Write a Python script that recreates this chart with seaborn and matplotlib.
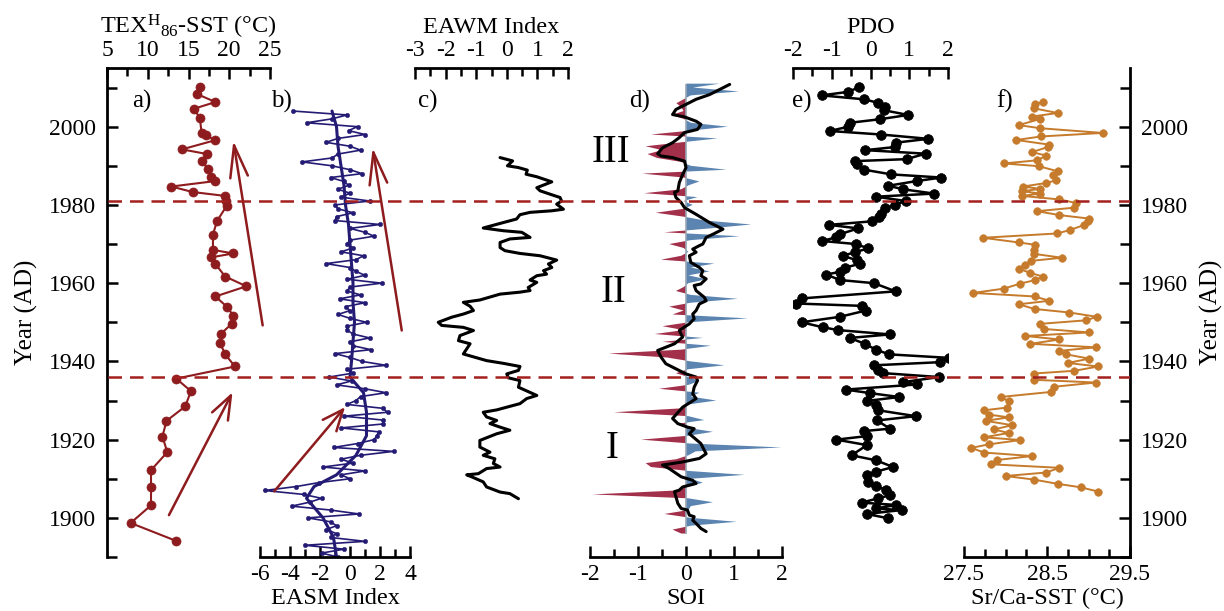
import numpy as np
import pandas as pd
import matplotlib
matplotlib.use("Agg")
import matplotlib.pyplot as plt
from matplotlib.ticker import MultipleLocator
import seaborn as sns

# ---------------- data ----------------
tex_year = [2010.1, 2008.3, 2006.3, 2004.6, 2002.1, 1998.5, 1997.9, 1996.5, 1994.2, 1993.0,
            1991.2, 1989.1, 1987.2, 1986.1, 1984.7, 1983.3, 1982.3, 1981.0, 1979.8, 1975.9,
            1972.4, 1968.5, 1967.6, 1966.6, 1964.9, 1961.7, 1959.2, 1956.6, 1954.0, 1951.7,
            1949.6, 1947.1, 1944.6, 1941.8, 1938.7, 1935.6, 1932.4, 1928.5, 1924.8, 1920.8,
            1916.8, 1912.2, 1907.9, 1903.2, 1898.7, 1894.1]
tex_sst = [16.4, 16.1, 18.3, 15.7, 16.4, 16.6, 17.2, 18.2, 14.2, 17.3,
           16.7, 17.4, 17.8, 18.3, 12.9, 15.5, 19.5, 19.6, 19.7, 18.5,
           18.0, 18.0, 20.5, 17.8, 18.3, 19.5, 22.1, 18.3, 19.7, 20.5,
           20.3, 19.0, 18.9, 19.5, 20.7, 13.5, 15.3, 14.6, 12.3, 11.8,
           12.4, 10.4, 10.4, 10.4, 7.9, 13.5]

easm_year = list(range(1890, 2005))
easm = [-0.8, -1.9, -0.4, -3.0, 1.0, -1.3, -0.9, -1.6, -0.9, -1.3,
        -2.8, 0.6, -1.3, -3.9, -2.7, -1.9, -3.1, -5.7, -3.6, -2.1,
        0.0, -0.6, 1.0, -1.8, 0.2, -0.6, 0.7, 2.9, -1.1, 0.5,
        1.6, 1.8, 1.9, -0.6, 2.2, 2.2, -0.4, 2.5, 2.2, -0.2,
        0.4, 0.7, 2.4, 1.0, -0.9, 0.1, -1.4, 0.2, -0.2, 2.4,
        0.8, 0.0, -1.0, 1.4, 0.2, 0.0, 1.3, 0.2, -0.2, -0.2,
        1.1, 0.0, -0.8, 0.0, -0.3, 1.0, -0.7, 0.7, -0.2, 0.0,
        2.1, -0.2, 1.0, 0.4, 0.0, -1.6, 0.4, 0.9, -0.6, 0.2,
        -0.2, 0.0, 1.6, 1.0, 0.0, 2.0, -1.0, -0.9, 0.2, -0.8,
        -1.0, 1.3, -0.6, 0.0, -0.8, -0.1, -0.4, -1.3, 0.8, 0.0,
        -1.2, -3.2, -1.2, -0.8, 0.7, 0.0, -1.6, -0.8, 1.0, -0.1,
        0.5, -2.9, -1.2, -0.2, -3.8]
easm_smooth_year = [1890, 1895, 1900, 1905, 1908, 1911, 1916, 1921, 1927, 1932, 1936, 1940,
                    1945, 1950, 1955, 1960, 1965, 1970, 1975, 1980, 1985, 1990, 1995, 2000, 2004]
easm_smooth = [-0.9, -1.1, -1.8, -2.9, -2.4, -0.9, 0.4, 1.1, 1.1, 0.9, 0.0, 0.1,
               0.2, 0.3, 0.2, 0.2, 0.1, 0.0, -0.1, -0.3, -0.4, -0.6, -0.8, -0.9, -1.2]

eawm_year = [1904.9, 1906.2, 1906.6, 1907.9, 1909.2, 1910.5, 1911.0, 1911.3, 1912.6, 1913.0,
             1913.9, 1915.1, 1916.0, 1916.8, 1918.1, 1919.8, 1921.5, 1922.4, 1923.2, 1924.1,
             1924.9, 1925.8, 1927.0, 1927.6, 1928.3, 1929.2, 1930.5, 1931.3, 1933.4, 1935.1,
             1935.8, 1936.8, 1937.7, 1938.7, 1939.5, 1940.2, 1941.9, 1943.2, 1944.5, 1945.3,
             1946.6, 1947.9, 1948.7, 1949.2, 1950.0, 1951.3, 1952.1, 1953.0, 1954.1, 1955.1,
             1955.7, 1957.2, 1957.7, 1958.1, 1958.9, 1960.2, 1960.8, 1961.9, 1962.3, 1963.2,
             1964.0, 1964.9, 1965.9, 1967.0, 1967.6, 1968.3, 1969.1, 1970.4, 1971.3, 1971.7,
             1973.0, 1973.4, 1974.1, 1975.5, 1976.4, 1977.5, 1978.1, 1978.5, 1978.9, 1980.2,
             1981.0, 1981.9, 1982.75, 1983.6, 1984.4, 1985.9, 1987.2, 1987.85, 1988.9, 1989.55,
             1990.0, 1991.25, 1992.1]
eawm = [0.38, 0.10, -0.22, -0.66, -0.77, -1.15, -1.31, -0.93, -0.66, -0.22,
        -0.44, -0.39, -0.77, -0.55, -0.88, -0.88, -0.33, 0.10, -0.22, -0.55,
        -0.33, -0.66, -0.77, -0.33, 0.00, 0.43, 0.65, 0.98, 0.38, 0.43,
        0.05, 0.00, 0.38, 0.43, -0.11, -0.66, -1.42, -1.31, -1.20, -1.58,
        -1.53, -1.09, -1.42, -2.13, -2.24, -1.80, -1.42, -1.09, -1.20, -1.42,
        -0.88, -0.22, 0.43, 0.76, 0.70, 0.98, 0.76, 0.98, 1.30, 1.20,
        1.47, 1.36, 1.63, 1.09, 0.43, -0.06, -0.22, -0.22, 0.10, 0.76,
        0.49, -0.11, -0.77, -0.11, 0.32, 0.43, 0.76, 1.47, 1.85, 1.63,
        1.79, 1.74, 1.41, 1.09, 0.98, 1.47, 0.98, 0.63, 0.67, 0.38,
        0.02, 0.19, -0.22]

soi_year = list(range(1896, 2012))
soi = [-0.10, -0.28, 0.10, 1.05,
       0.10, -0.45, 0.05, 0.10, 0.56, 0.05, -1.95, -0.20, 0.05, 0.35,
       0.10, 1.22, 0.05, -0.73, -0.84, -0.20, 0.05, 0.20, 1.99, 0.10,
       -0.94, 0.05, 0.56, 0.05, -0.21, 0.38, 0.05, -1.50, -0.10, 0.05,
       0.63, 0.10, 0.28, -0.56, 0.05, 0.28, 0.05, -0.21, 0.05, 0.80,
       0.10, -0.40, -1.61, -0.10, 0.52, -0.49, 0.35, -0.65, -0.05, -0.49,
       0.05, 1.29, -0.28, -0.05, -0.35, 0.10, 1.08, 0.10, -0.21, -0.05,
       0.05, 0.42, 0.05, 0.49, 0.10, 0.59, -0.52, -0.10, 0.05, -0.05,
       -0.35, 0.10, 1.12, -0.45, 0.50, 1.36, 0.40, -0.05, -0.63, -0.05,
       0.14, -0.05, 0.24, -0.87, -0.10, 0.05, 0.28, -0.05, -0.91, 0.84,
       0.10, -0.10, -0.60, -0.80, -0.50, -0.84, -0.10, 0.66, -0.73, 0.10,
       0.87, 0.10, -0.05, -0.30, -0.05, -0.10, -0.20, -0.05, 0.10, 1.10,
       0.15, 0.70]
soi_smooth_year = [1896.5, 1897.3, 1898.6, 1899.4, 1900.3, 1900.7, 1902.0, 1902.4, 1903.7, 1905.4,
                   1906.7, 1907.1, 1907.9, 1908.8, 1909.6, 1910.5, 1912.6, 1913.5, 1914.3, 1915.2,
                   1916.4, 1917.3, 1919.0, 1921.5, 1922.8, 1923.2, 1924.1, 1925.4, 1928.3, 1929.6,
                   1930.5, 1931.7, 1933.4, 1935.1, 1936.0, 1936.8, 1938.1, 1939.4, 1941.1, 1942.8,
                   1944.5, 1946.2, 1947.9, 1949.6, 1950.9, 1952.1, 1953.0, 1954.7, 1955.5, 1956.4,
                   1958.1, 1959.4, 1959.8, 1961.1, 1961.9, 1963.2, 1964.0, 1965.3, 1967.0, 1967.9,
                   1968.7, 1969.6, 1970.0, 1971.7, 1972.5, 1973.8, 1975.5, 1977.6, 1979.3, 1980.6,
                   1981.9, 1983.2, 1983.6, 1985.7, 1987.8, 1989.5, 1991.2, 1992.1, 1992.5, 1993.1,
                   1994.6, 1995.9, 1997.2, 1998.5, 1999.3, 2000.6, 2001.4, 2002.5, 2003.1, 2004.4,
                   2005.7, 2007.0, 2008.2, 2010.8]
soi_smooth = [0.42, 0.31, 0.21, 0.14, 0.17, 0.07, 0.03, -0.10, -0.17, -0.21,
              -0.24, -0.14, -0.07, 0.21, 0.14, -0.10, -0.35, -0.49, -0.07, 0.28,
              0.42, 0.38, 0.31, 0.07, 0.17, 0.03, -0.17, -0.28, -0.07, 0.10,
              0.21, 0.14, 0.17, 0.24, 0.21, 0.00, -0.21, -0.42, -0.52, -0.59,
              -0.24, -0.07, -0.14, 0.07, 0.17, 0.14, 0.21, 0.28, 0.42, 0.38,
              0.21, 0.17, 0.31, 0.42, 0.31, 0.35, 0.28, 0.10, 0.07, 0.21,
              0.14, 0.28, 0.35, 0.42, 0.56, 0.77, 0.49, 0.21, -0.03, -0.10,
              -0.21, -0.24, -0.17, -0.14, -0.07, 0.00, -0.03, -0.28, -0.52, -0.59,
              -0.49, -0.28, -0.14, -0.03, 0.24, 0.31, 0.21, -0.03, -0.28, -0.21,
              0.00, 0.21, 0.49, 0.91]

pdo_year = [1899.9, 1901.0, 1902.0, 1902.4, 1903.3, 1903.9, 1905.0, 1905.8, 1907.1, 1908.1,
            1909.2, 1910.9, 1911.8, 1913.0, 1914.7, 1916.0, 1918.6, 1920.0, 1920.9, 1922.2,
            1922.8, 1924.9, 1926.0, 1927.5, 1928.8, 1929.9, 1930.9, 1931.9, 1932.8, 1934.1,
            1934.7, 1936.0, 1937.0, 1937.9, 1939.0, 1939.8, 1940.9, 1941.8, 1943.0, 1944.5,
            1946.0, 1946.9, 1948.0, 1948.7, 1950.0, 1951.4, 1953.0, 1954.2, 1954.8, 1956.1,
            1957.9, 1960.0, 1960.8, 1962.2, 1962.9, 1964.0, 1964.9, 1965.9, 1967.0, 1967.9,
            1968.9, 1970.0, 1970.8, 1971.7, 1972.5, 1974.0, 1974.9, 1975.8, 1976.8, 1977.6,
            1979.1, 1980.0, 1981.0, 1982.1, 1982.9, 1984.0, 1984.9, 1986.1, 1987.0, 1987.8,
            1989.0, 1990.4, 1991.2, 1991.7, 1993.1, 1994.0, 1994.8, 1995.9, 1996.9, 1998.0,
            1998.9, 2000.0, 2001.0, 2001.9, 2003.0, 2004.2, 2005.0, 2006.1, 2007.0, 2008.0,
            2008.9, 2010.1]
pdo = [0.46, -0.10, 0.80, 0.14, 0.67, -0.23, 0.20, 0.50, 0.40, 0.15,
       -0.06, -0.10, 0.14, 0.58, 0.15, -0.49, -0.09, -0.88, -0.10, -0.16,
       0.50, 0.17, 1.17, 0.20, 0.15, -0.09, 0.74, -0.02, -0.64, 1.19,
       0.84, 1.77, 0.33, 0.20, 0.09, 1.79, 2.03, 0.48, 0.14, -0.15,
       -0.53, 0.50, -0.83, -1.22, -1.78, -0.79, -0.12, -0.23, -1.91, -1.78,
       0.65, 0.09, -0.79, -1.14, -0.79, -0.66, -0.28, -0.36, -0.72, -0.40,
       -0.06, -0.38, -1.26, -0.88, -0.79, -0.32, -1.07, 0.03, 0.22, 0.27,
       0.37, 0.63, 0.91, 0.14, 1.64, 0.84, 0.46, 1.19, 1.83, 0.54,
       -0.16, -0.36, -0.40, 0.93, 1.42, -0.13, 0.63, 0.65, 1.49, 0.27,
       -1.05, -0.57, -0.53, 0.24, 0.97, 0.35, 0.37, 0.20, -0.17, -1.26,
       -0.58, -0.29]

srca_year = [1906.7, 1907.8, 1908.7, 1909.8, 1910.7, 1911.6, 1912.8, 1913.7, 1914.8, 1915.8,
             1916.7, 1917.9, 1918.8, 1919.9, 1920.6, 1921.7, 1922.6, 1923.7, 1924.8, 1925.7,
             1926.4, 1927.5, 1928.2, 1929.8, 1930.9, 1932.2, 1933.5, 1934.6, 1935.3, 1936.9,
             1937.6, 1938.7, 1939.6, 1940.7, 1941.8, 1942.7, 1943.6, 1944.5, 1945.6, 1946.5,
             1947.4, 1948.3, 1949.6, 1950.5, 1951.4, 1952.5, 1953.4, 1954.6, 1955.5, 1956.6,
             1957.5, 1958.6, 1959.9, 1960.8, 1961.7, 1962.6, 1963.7, 1964.7, 1965.7, 1966.5,
             1967.5, 1968.6, 1969.8, 1970.4, 1971.6, 1972.7, 1973.6, 1974.9, 1975.8, 1976.5,
             1977.4, 1978.4, 1979.3, 1980.5, 1981.4, 1982.3, 1982.9, 1983.5, 1984.1, 1984.7,
             1985.6, 1986.3, 1987.7, 1988.6, 1989.9, 1990.6, 1991.4, 1992.6, 1993.5, 1994.8,
             1995.4, 1996.6, 1997.5, 1998.4, 1999.6, 2000.4, 2002.0, 2002.6, 2003.5, 2004.7,
             2005.7, 2006.4]
srca_sst = [29.12, 28.91, 28.63, 28.34, 28.00, 28.49, 28.65, 27.82, 27.90, 28.32,
            27.74, 27.59, 27.80, 28.18, 27.74, 28.04, 27.86, 28.08, 27.76, 28.04,
            27.80, 27.74, 28.02, 28.04, 27.94, 28.55, 28.58, 29.09, 28.34, 28.34,
            28.83, 29.12, 28.75, 29.01, 28.73, 28.65, 29.09, 28.30, 28.65, 28.24,
            29.01, 28.46, 28.42, 28.97, 29.10, 28.77, 28.35, 28.16, 28.53, 28.35,
            27.61, 27.98, 28.18, 28.36, 28.45, 28.30, 28.16, 28.24, 28.31, 28.68,
            28.34, 28.34, 28.36, 28.16, 27.73, 28.62, 28.78, 28.95, 28.99, 29.01,
            28.65, 28.38, 28.83, 28.85, 28.65, 28.20, 28.42, 28.20, 28.42, 28.21,
            28.49, 28.61, 28.57, 28.63, 28.40, 27.98, 28.38, 28.49, 28.32, 28.51,
            28.53, 28.13, 28.43, 29.17, 28.42, 28.16, 28.42, 28.32, 28.63, 28.34,
            28.36, 28.45]

boundary_years = [1981, 1936]
phase_labels = ["III", "II", "I"]
# trend arrows: (start, tip) in data units of their panel
arrows_a = [((12.6, 1900.7), (20.4, 1932.1)), ((24.1, 1949.2), (20.5, 1996.4))]
arrows_b = [((-5.05, 1906.8), (-0.33, 1928.3)), ((3.45, 1947.9), (1.51, 1994.6))]

# ---------------- style ----------------
sns.set_theme(style="ticks")
plt.rcParams["font.family"] = ["Liberation Serif", "DejaVu Serif"]
plt.rcParams["mathtext.fontset"] = "custom"
plt.rcParams["mathtext.rm"] = "Liberation Serif"
plt.rcParams["mathtext.it"] = "Liberation Serif:italic"
plt.rcParams["mathtext.bf"] = "Liberation Serif:bold"
plt.rcParams["axes.unicode_minus"] = False

RED = "#8e1b1d"
NAVY = "#241b74"
SOI_RED = "#a3304a"
SOI_BLUE = "#5b84b0"
ORANGE = "#c57b2b"
DASH = "#a3201f"

W, H = 1224, 611
TOP, BOT = 68, 557
YMIN, YMAX = 1890, 2015
TICK_FS, LAB_FS = 17, 17.5

fig = plt.figure(figsize=(W / 100, H / 100), dpi=100)
fig.patch.set_facecolor("white")


def make_ax(x0, x1):
    ax = fig.add_axes([x0 / W, 1 - BOT / H, (x1 - x0) / W, (BOT - TOP) / H])
    ax.set_facecolor("none")
    return ax


def finish(ax, side, lim, major, minor, label, ticks=None, minor_ticks=None):
    ax.set_ylim(YMIN, YMAX)
    ax.set_xlim(*lim)
    ax.grid(False)
    for s in ax.spines.values():
        s.set_visible(False)
    ax.tick_params(axis="both", which="both", left=False, right=False, top=False, bottom=False,
                   labelleft=False, labelright=False, labeltop=False, labelbottom=False)
    sp = ax.spines[side]
    sp.set_visible(True)
    sp.set_linewidth(2.0)
    sp.set_color("black")
    ax.xaxis.set_label_position(side)
    if ticks is not None:
        ax.set_xticks(ticks)
        ax.set_xticks(minor_ticks, minor=True)
    else:
        ax.xaxis.set_major_locator(MultipleLocator(major))
        ax.xaxis.set_minor_locator(MultipleLocator(minor))
    ax.tick_params(axis="x", which="both", direction="in", width=1.8, color="black",
                   labelsize=TICK_FS, labelcolor="black", pad=5, **{side: True, "label" + side: True})
    ax.tick_params(axis="x", which="major", length=8)
    ax.tick_params(axis="x", which="minor", length=6)
    ax.set_xlabel(label, fontsize=LAB_FS, labelpad=5 if side == "top" else 2, color="black")
    ax.set_ylabel("")


def year_axis(ax, side):
    sp = ax.spines[side]
    sp.set_visible(True)
    sp.set_linewidth(2.0)
    sp.set_color("black")
    ax.yaxis.set_major_locator(MultipleLocator(20))
    ax.yaxis.set_minor_locator(MultipleLocator(10))
    ax.yaxis.set_label_position(side)
    ax.tick_params(axis="y", which="both", direction="in", width=1.8, color="black",
                   labelsize=TICK_FS, labelcolor="black", pad=8, **{side: True, "label" + side: True})
    ax.tick_params(axis="y", which="major", length=8)
    ax.tick_params(axis="y", which="minor", length=7)
    ax.set_ylabel("Year (AD)", fontsize=LAB_FS + 0.5, labelpad=8, color="black")


ax_a = make_ax(107, 270)
ax_b = make_ax(260, 410)
ax_c = make_ax(415, 568)
ax_d = make_ax(590, 782)
ax_e = make_ax(793, 948)
ax_f = make_ax(964, 1130)

# a) TEX86-SST
sns.lineplot(x=tex_sst, y=tex_year, ax=ax_a, sort=False, estimator=None, color=RED, lw=1.5,
             marker="o", markersize=6.5, markeredgecolor=RED, markeredgewidth=0.5)
# b) EASM
sns.lineplot(x=easm, y=easm_year, ax=ax_b, sort=False, estimator=None, color=NAVY, lw=1.2,
             marker="o", markersize=3.2, markeredgecolor=NAVY, markeredgewidth=0.3)
sns.lineplot(x=easm_smooth, y=easm_smooth_year, ax=ax_b, sort=False, estimator=None,
             color=NAVY, lw=2.2)
# c) EAWM
sns.lineplot(x=eawm, y=eawm_year, ax=ax_c, sort=False, estimator=None, color="black", lw=2.2)
# d) SOI
soi_arr = np.asarray(soi)
ax_d.fill_betweenx(soi_year, 0, soi_arr, where=soi_arr >= 0, interpolate=True,
                   color=SOI_BLUE, lw=0)
ax_d.fill_betweenx(soi_year, 0, soi_arr, where=soi_arr <= 0, interpolate=True,
                   color=SOI_RED, lw=0)
ax_d.vlines(0, min(soi_year), max(soi_year), color="#9aa6b4", lw=1.2)
sns.lineplot(x=soi_smooth, y=soi_smooth_year, ax=ax_d, sort=False, estimator=None,
             color="black", lw=2.2)
# e) PDO
sns.lineplot(x=pdo, y=pdo_year, ax=ax_e, sort=False, estimator=None, color="black", lw=1.8,
             marker="o", markersize=7, markeredgecolor="black", markeredgewidth=0.5)
# f) Sr/Ca-SST
sns.lineplot(x=srca_sst, y=srca_year, ax=ax_f, sort=False, estimator=None, color=ORANGE, lw=1.4,
             marker="o", markersize=5.5, markeredgecolor=ORANGE, markeredgewidth=0.4)

# arrows
heads_a = [0.85, 1.15]
heads_b = [0.75, 1.15]
for ax, arrows, heads in [(ax_a, arrows_a, heads_a), (ax_b, arrows_b, heads_b)]:
    for (start, tip), hl in zip(arrows, heads):
        ax.annotate("", xy=tip, xytext=start, annotation_clip=False,
                    arrowprops=dict(arrowstyle=f"->,head_length={hl},head_width=0.32",
                                    color=RED, lw=1.8, mutation_scale=20,
                                    shrinkA=0, shrinkB=0))

finish(ax_a, "top", (5, 25), 5, 2.5, r"TEX$^{\mathrm{H}}$$_{\mathrm{86}}$-SST (°C)")
year_axis(ax_a, "left")
finish(ax_b, "bottom", (-6, 4), 2, 1, "EASM Index")
finish(ax_c, "top", (-3, 2), 1, 0.5, "EAWM Index")
finish(ax_d, "bottom", (-2, 2), 1, 0.5, "SOI")
finish(ax_e, "top", (-2, 2), 1, 0.5, "PDO")
finish(ax_f, "bottom", (27.5, 29.5), 1, 0.25, "Sr/Ca-SST (°C)",
       ticks=[27.5, 28.5, 29.5], minor_ticks=list(np.arange(27.5, 29.51, 0.25)))
year_axis(ax_f, "right")

# dashed boundaries across the whole frame
ax_ov = make_ax(108, 1130)
ax_ov.set_ylim(YMIN, YMAX)
ax_ov.axis("off")
for yb in boundary_years:
    ax_ov.axhline(yb, color=DASH, lw=1.8, dashes=(5.4, 3.2))

# panel letters
for txt, px in zip(["a)", "b)", "c)", "d)", "e)", "f)"], [142, 281, 428, 640, 802, 1005]):
    fig.text(px / W, 1 - 101 / H, txt, ha="center", va="center", fontsize=18, color="black")
# phase numerals
for txt, (px, py) in zip(phase_labels, [(611, 152), (614, 292), (612, 448)]):
    fig.text(px / W, 1 - py / H, txt, ha="center", va="center", fontsize=28, color="black")

fig.savefig("out.png", dpi=100, facecolor="white")
